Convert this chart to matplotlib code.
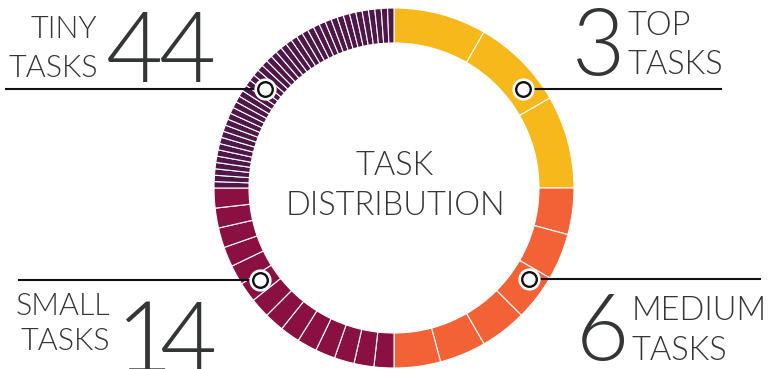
#!/usr/bin/env python3
"""Task distribution donut - four quadrants, each split into its task count."""

import numpy as np
import matplotlib
matplotlib.use("Agg")
import matplotlib.pyplot as plt

# data
groups = ["TOP", "MEDIUM", "SMALL", "TINY"]
counts = [3, 6, 14, 44]
colors = ["#F6B81A", "#F26236", "#8A1042", "#4E1649"]

W, H = 768, 369
CX, CY = 394, H - 188   # donut centre (y measured from bottom)
R_OUT, RING = 180, 35
TEXT = "#333536"
FONT = "Lato"

plt.rcParams["font.family"] = [FONT, "DejaVu Sans"]

fig = plt.figure(figsize=(W / 100, H / 100), dpi=100)
ax = fig.add_axes([0, 0, 1, 1])

# every quadrant is 90 deg, split equally into its tasks
values, slice_colors = [], []
for n, c in zip(counts, colors):
    values += [1.0 / n] * n
    slice_colors += [c] * n

ax.pie(values, colors=slice_colors, startangle=90, counterclock=False,
       radius=R_OUT, center=(CX, CY),
       wedgeprops=dict(width=RING, edgecolor="white", linewidth=0.8))

ax.set_xlim(0, W)
ax.set_ylim(0, H)
ax.set_aspect("equal")
ax.axis("off")


def py(y):
    # pixel row (from top) -> data y
    return H - y


# marker angle (deg, ccw from +x), line end x
callouts = {
    "TOP": (37.4, 722),
    "MEDIUM": (-33.9, 761),
    "SMALL": (214.4, 18),
    "TINY": (142.5, 5),
}
r_mid = R_OUT - RING / 2
for g in groups:
    ang, x_end = callouts[g]
    mx = CX + r_mid * np.cos(np.radians(ang))
    my = CY + r_mid * np.sin(np.radians(ang))
    ax.plot([mx, x_end], [my, my], color="#111111", lw=1.5, zorder=3,
            solid_capstyle="butt")
    ax.plot(mx, my, "o", ms=15, color="white", zorder=4)
    ax.plot(mx, my, "o", ms=10.5, mfc="white", mec="#111111", mew=1.7,
            zorder=5)

small = dict(color=TEXT, fontweight=300, va="baseline")


def big_number(centers, ybase, s, size):
    # one digit per centre, proportional spacing like the original
    for xc, ch in zip(centers, s):
        ax.text(xc, py(ybase), ch, ha="center", fontsize=size, color=TEXT,
                fontweight=300, va="baseline")


# top left
ax.text(97, py(38), "TINY", ha="right", fontsize=22, **small)
ax.text(98, py(77), "TASKS", ha="right", fontsize=22, **small)
big_number([135, 188], 82, str(counts[3]), 71)

# bottom left
ax.text(110, py(315), "SMALL", ha="right", fontsize=22, **small)
ax.text(110, py(350), "TASKS", ha="right", fontsize=22, **small)
big_number([145, 189], 372, str(counts[2]), 71)

# top right
big_number([599], 75, str(counts[0]), 66)
ax.text(627, py(35), "TOP", ha="left", fontsize=23.5, **small)
ax.text(627, py(74), "TASKS", ha="left", fontsize=23.5, **small)

# bottom right
big_number([602], 360, str(counts[1]), 66)
ax.text(632, py(320), "MEDIUM", ha="left", fontsize=23.5, **small)
ax.text(632, py(360), "TASKS", ha="left", fontsize=23.5, **small)

# centre title
ax.text(395, py(175), "TASK", ha="center", fontsize=23.5, **small)
ax.text(395, py(215), "DISTRIBUTION", ha="center", fontsize=23.5, **small)

fig.savefig("out.png", dpi=100)
